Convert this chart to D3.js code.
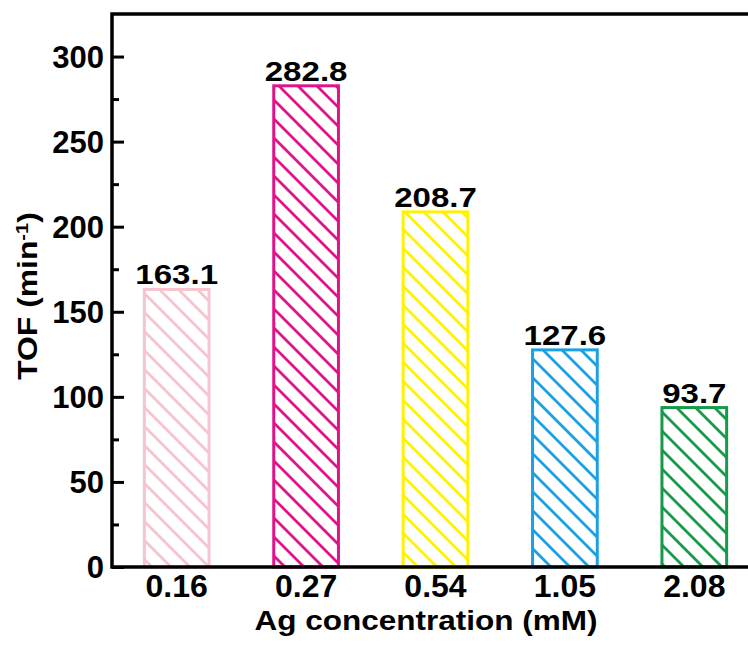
<!DOCTYPE html>
<html>
<head>
<meta charset="utf-8">
<script src="https://d3js.org/d3.v7.min.js"></script>
<style>
  body { margin: 0; background: #fff; }
  text { font-family: "Liberation Sans", Arial, sans-serif; font-weight: bold; fill: #000; }
</style>
</head>
<body>
<div id="chart"></div>
<script>
// data
var concentrations = ["0.16", "0.27", "0.54", "1.05", "2.08"];
var tofValues = [163.1, 282.8, 208.7, 127.6, 93.7];
var barColors = ["#f6c4cf", "#e0138a", "#fff200", "#1ca0e4", "#17994a"];
var yTicks = [0, 50, 100, 150, 200, 250, 300];
var yMinorTicks = [25, 75, 125, 175, 225, 275];

var svgWidth = 748;
var svgHeight = 651;

var margin = { top: 14, right: -11, bottom: 84, left: 112 };
var chartWidth = svgWidth - margin.left - margin.right;
var chartHeight = svgHeight - margin.top - margin.bottom;

var svg = d3.select("#chart")
  .append("svg")
  .attr("width", svgWidth)
  .attr("height", svgHeight);

// hatch patterns, one per bar colour
var defs = svg.append("defs");
barColors.forEach(function(c, i) {
  var p = defs.append("pattern")
    .attr("id", "hatch" + i)
    .attr("patternUnits", "userSpaceOnUse")
    .attr("width", 19)
    .attr("height", 19);
  p.append("path")
    .attr("d", "M-2,-2 L21,21 M-2,17 L2,21 M17,-2 L21,2")
    .attr("stroke", c)
    .attr("stroke-width", 2.8)
    .attr("fill", "none");
});

var chartGroup = svg.append("g")
  .attr("transform", `translate(${margin.left}, ${margin.top})`);

var xScale = d3.scaleBand()
  .domain(concentrations)
  .range([0, chartWidth])
  .paddingInner(0.5)
  .paddingOuter(0.25);

var yScale = d3.scaleLinear()
  .domain([0, 325])
  .range([chartHeight, 0]);

// bars
chartGroup.selectAll("rect.bar")
  .data(tofValues)
  .enter()
  .append("rect")
  .attr("class", "bar")
  .attr("x", (d, i) => xScale(concentrations[i]))
  .attr("y", d => yScale(d))
  .attr("width", xScale.bandwidth())
  .attr("height", d => yScale(0) - yScale(d))
  .attr("fill", (d, i) => `url(#hatch${i})`)
  .attr("stroke", (d, i) => barColors[i])
  .attr("stroke-width", 3);

// value labels
chartGroup.selectAll("text.val")
  .data(tofValues)
  .enter()
  .append("text")
  .attr("class", "val")
  .attr("x", (d, i) => xScale(concentrations[i]) + xScale.bandwidth() / 2)
  .attr("y", d => yScale(d) - 5)
  .attr("text-anchor", "middle")
  .style("font-size", "28px")
  .text(d => d.toFixed(1))
  .each(function() {
    var w = this.getComputedTextLength();
    d3.select(this).attr("textLength", w * 1.18).attr("lengthAdjust", "spacingAndGlyphs");
  });

// y axis with inward ticks
var yAxis = d3.axisRight(yScale).tickValues(yTicks).tickSize(12).tickFormat("");
chartGroup.append("g")
  .call(yAxis)
  .call(g => g.select(".domain").remove())
  .selectAll("line").attr("stroke-width", 3);

var yMinor = d3.axisRight(yScale).tickValues(yMinorTicks).tickSize(7).tickFormat("");
chartGroup.append("g")
  .call(yMinor)
  .call(g => g.select(".domain").remove())
  .selectAll("line").attr("stroke-width", 3);

chartGroup.selectAll("text.ytick")
  .data(yTicks)
  .enter()
  .append("text")
  .attr("class", "ytick")
  .attr("x", -8)
  .attr("y", d => yScale(d))
  .attr("dy", "0.36em")
  .attr("text-anchor", "end")
  .style("font-size", "31px")
  .text(d => d);

// x tick labels
chartGroup.selectAll("text.xtick")
  .data(concentrations)
  .enter()
  .append("text")
  .attr("class", "xtick")
  .attr("x", d => xScale(d) + xScale.bandwidth() / 2)
  .attr("y", chartHeight + 30)
  .attr("text-anchor", "middle")
  .style("font-size", "32px")
  .text(d => d);

// frame: left, top, bottom
chartGroup.append("path")
  .attr("d", `M${chartWidth},0 H0 V${chartHeight} H${chartWidth}`)
  .attr("fill", "none")
  .attr("stroke", "#000")
  .attr("stroke-width", 3.5);

// axis titles
chartGroup.append("text")
  .attr("x", 426 - margin.left)
  .attr("y", chartHeight + 63)
  .attr("text-anchor", "middle")
  .style("font-size", "28px")
  .attr("textLength", 343)
  .attr("lengthAdjust", "spacingAndGlyphs")
  .text("Ag concentration (mM)");

var yTitle = chartGroup.append("text")
  .attr("transform", `translate(${37 - margin.left}, ${296 - margin.top}) rotate(-90)`)
  .attr("text-anchor", "middle")
  .style("font-size", "27px");
yTitle.append("tspan").text("TOF (min");
yTitle.append("tspan").attr("dy", "-0.55em").style("font-size", "17px").text("-1");
yTitle.append("tspan").attr("dy", "0.35em").text(")");
yTitle.each(function() {
  var w = this.getComputedTextLength();
  d3.select(this).attr("textLength", w * 1.18).attr("lengthAdjust", "spacingAndGlyphs");
});
</script>
</body>
</html>
